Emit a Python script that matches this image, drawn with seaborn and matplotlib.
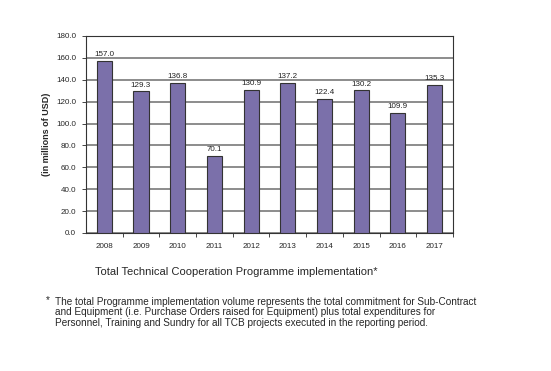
import matplotlib
matplotlib.use('Agg')
import matplotlib.pyplot as plt
import seaborn as sns
import numpy as np

# Data
years = ['2008', '2009', '2010', '2011', '2012', '2013', '2014', '2015', '2016', '2017']
values = [157.0, 129.3, 136.8, 70.1, 130.9, 137.2, 122.4, 130.2, 109.9, 135.3]
y_ticks = [0, 20, 40, 60, 80, 100, 120, 140, 160, 180]

sns.set_style('white')
plt.rcParams['font.family'] = ['Liberation Sans', 'DejaVu Sans']

fig = plt.figure(figsize=(5.51, 3.71), dpi=100)
ax = fig.add_axes([0.156, 0.372, 0.666, 0.531])

sns.barplot(x=years, y=values, color='#7B70AA', saturation=1, width=0.41,
            edgecolor='#333333', linewidth=0.8, ax=ax, zorder=3)

# Value labels on top of bars
ax.bar_label(ax.containers[0], fmt='%.1f', fontsize=5.8, padding=2, color='#222222')

ax.set_ylim(0, 180)
ax.set_yticks(y_ticks)
ax.set_yticklabels([f'{t:.1f}' for t in y_ticks], fontsize=5.8)
ax.set_xlim(-0.5, len(years) - 0.5)
ax.tick_params(axis='x', length=0, labelsize=5.8, pad=7)
ax.tick_params(axis='y', length=3, width=0.6, direction='out', left=True, pad=4)
ax.set_xticks(np.arange(len(years)) + 0.5, minor=True)
ax.tick_params(axis='x', which='minor', length=3, width=0.6, direction='out', bottom=True)

ax.yaxis.grid(True, color='#8c8c8c', linewidth=1.4, zorder=0)
ax.set_axisbelow(True)
for side in ['top', 'right', 'left', 'bottom']:
    ax.spines[side].set_visible(True)
    ax.spines[side].set_color('#333333')
    ax.spines[side].set_linewidth(0.8)

ax.set_ylabel('(in millions of USD)', fontsize=6.5, fontweight='bold', labelpad=4)

# Title and footnote
fig.text(0.172, 0.267, 'Total Technical Cooperation Programme implementation*',
         fontsize=8.05, va='center', ha='left')
fig.text(0.083, 0.192, '*', fontsize=7.2, va='center', ha='left')
footnote = ('The total Programme implementation volume represents the total commitment for Sub-Contract\n'
            'and Equipment (i.e. Purchase Orders raised for Equipment) plus total expenditures for\n'
            'Personnel, Training and Sundry for all TCB projects executed in the reporting period.')
fig.text(0.100, 0.200, footnote, fontsize=7.2, va='top', ha='left', linespacing=1.05)

fig.savefig('out.png', dpi=100)
